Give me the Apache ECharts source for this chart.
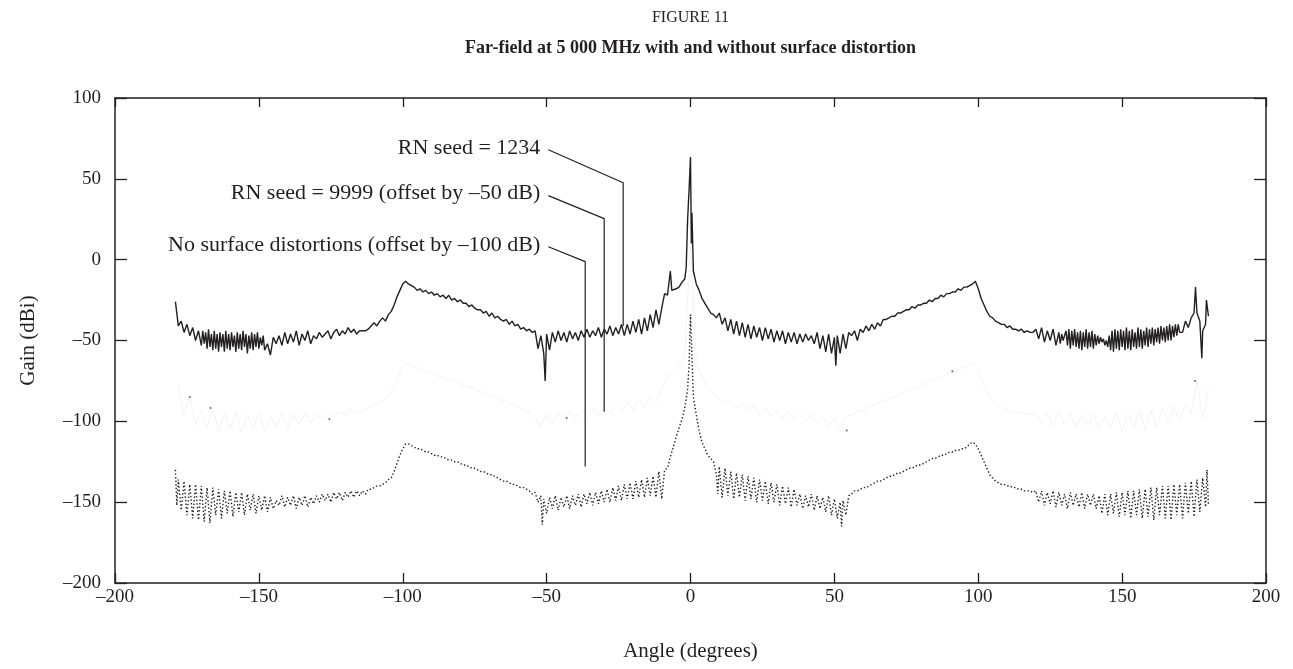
<!DOCTYPE html>
<html>
<head>
<meta charset="utf-8">
<script src="https://cdn.jsdelivr.net/npm/echarts@6/dist/echarts.min.js"></script>
<style>
html,body{margin:0;padding:0;background:#fff;}
#c{width:1293px;height:669px;}
</style>
</head>
<body>
<div id="c"></div>
<script>
// ---------- DATA ----------
const xTicks = [-200, 200, 50];
const yTicks = [-200, 100, 50];

// RN seed = 1234 (solid)
const seed1234 = [
[-179,-26],[-178,-41],[-177,-38],[-176,-45],[-175,-40],[-174,-47],[-173,-42],[-172,-50],[-171,-44],
[-170,-53],[-169.5,-44],[-169,-52],[-168.5,-45],[-168,-55],[-167.5,-43],[-167,-54],[-166.5,-46],[-166,-56],[-165.5,-44],
[-165,-55],[-164.5,-46],[-164,-57],[-163.5,-45],[-163,-54],[-162.5,-46],[-162,-57],[-161.5,-44],[-161,-55],[-160.5,-46],
[-160,-56],[-159.5,-45],[-159,-54],[-158.5,-47],[-158,-57],[-157.5,-45],[-157,-55],[-156.5,-46],[-156,-56],[-155.5,-44],
[-155,-54],[-154.5,-46],[-154,-58],[-153.5,-47],[-153,-55],[-152.5,-45],[-152,-56],[-151.5,-46],[-151,-54],[-150.5,-45],
[-150,-55],[-149.5,-48],[-149,-53],[-148.5,-47],[-148,-56],
[-147,-52],[-146,-59],[-145,-48],[-144,-52],[-143,-47],[-142,-53],[-141,-45],[-140,-52],
[-139,-46],[-138,-51],[-137,-44],[-136,-53],[-135,-46],[-134,-50],[-133,-44],[-132,-52],[-131,-47],[-130,-49],
[-129,-45],[-128,-48],[-127,-46],[-126,-44],[-125,-49],[-124,-45],[-123,-43],[-122,-47],[-121,-44],[-120,-46],
[-119,-42],[-118,-45],[-117,-43],[-116,-46],[-115,-44],[-114,-44],[-113,-44],[-112,-43],[-111,-41],[-110,-39],
[-109,-41],[-108,-38],[-107,-36],[-106,-38],[-105,-34],[-104,-32],[-103,-28],[-102,-23],[-101,-19],[-100,-15],
[-99,-13.4],[-98,-15],[-97,-16],[-96,-17],[-95,-19],[-94,-18],[-93,-20],[-92,-19],[-91,-21],[-90,-20],
[-89,-22],[-88,-21],[-87,-23],[-86,-22],[-85,-24],[-84,-22],[-83,-25],[-82,-24],[-81,-26],[-80,-25],
[-79,-27],[-78,-27],[-77,-29],[-76,-28],[-75,-30],[-74,-31],[-73,-31],[-72,-33],[-71,-32],[-70,-35],
[-69,-33],[-68,-36],[-67,-35],[-66,-37],[-65,-38],[-64,-37],[-63,-40],[-62,-38],[-61,-41],[-60,-40],
[-59,-43],[-58,-42],[-57,-44],[-56,-43],[-55,-45],[-54,-44],[-53,-55],[-52,-47],[-51,-58],[-50.5,-75],
[-50,-46],[-49,-56],[-48,-45],[-47,-51],[-46,-44],[-45,-50],[-44,-45],[-43,-51],[-42,-44],[-41,-49],
[-40,-45],[-39,-50],[-38,-44],[-37,-48],[-36,-43],[-35,-48],[-34,-44],[-33,-47],[-32,-42],[-31,-48],
[-30,-43],[-29,-46],[-28,-41],[-27,-47],[-26,-42],[-25,-46],[-24,-40],[-23,-47],[-22,-40],[-21,-46],
[-20,-38],[-19,-45],[-18,-37],[-17,-46],[-16,-36],[-15,-44],[-14,-34],[-13,-42],[-12,-31],[-11,-40],
[-10,-30],[-9,-21],[-8,-22],[-7,-7],[-6.5,-19],[-6,-20],[-5,-18],[-4,-17],[-3,-14],[-2,-12],
[-1.5,-5],[-1,25],[-0.5,43],[0,63.5],[0.3,10],[0.5,29],[1,-7],[1.5,-11],[2,-15],[3,-19],
[4,-24],[5,-27],[6,-30],[7,-33],[8,-34],[9,-36],[10,-33],[11,-40],[12,-36],[13,-44],
[14,-37],[15,-46],[16,-38],[17,-47],[18,-39],[19,-48],[20,-40],[21,-49],[22,-41],[23,-48],
[24,-42],[25,-50],[26,-42],[27,-49],[28,-43],[29,-51],[30,-44],[31,-50],[32,-44],[33,-52],
[34,-45],[35,-51],[36,-45],[37,-52],[38,-46],[39,-51],[40,-46],[41,-50],[42,-47],[43,-52],
[44,-45],[45,-55],[46,-47],[47,-57],[48,-46],[49,-58],[50,-48],[50.5,-65.6],[51,-47],[52,-58],
[53,-46],[54,-55],[55,-45],[56,-47],[57,-44],[58,-50],[59,-43],[60,-45],[61,-41],[62,-44],
[63,-40],[64,-43],[65,-39],[66,-41],[67,-37],[68,-37],[69,-36],[70,-35],[71,-35],[72,-33],
[73,-33],[74,-32],[75,-31],[76,-31],[77,-29],[78,-30],[79,-28],[80,-28],[81,-27],[82,-27],
[83,-25],[84,-26],[85,-24],[86,-24],[87,-22],[88,-23],[89,-21],[90,-21],[91,-20],[92,-20],
[93,-18],[94,-19],[95,-17],[96,-17],[97,-16],[98,-15],[99,-13.4],[100,-18],[101,-24],[102,-28],
[103,-32],[104,-35],[105,-36],[106,-38],[107,-39],[108,-40],[109,-40],[110,-42],[111,-41],[112,-43],
[113,-43],[114,-44],[115,-43],[116,-45],[117,-44],[118,-45],[119,-45],[120,-43],[121,-49],[122,-42],
[123,-51],[124,-44],[125,-50],[126,-43],[127,-53],
[128,-45],[128.5,-52],[129,-46],[129.5,-50],[130,-49],[130.5,-44],[131,-53],[131.5,-43],[132,-55],[132.5,-44],
[133,-53],[133.5,-43],[134,-54],[134.5,-45],[135,-55],[135.5,-44],[136,-56],[136.5,-45],[137,-54],[137.5,-43],
[138,-55],[138.5,-45],[139,-54],[139.5,-44],[140,-55],[140.5,-46],[141,-53],[141.5,-47],[142,-52],[142.5,-48],
[143,-51],[143.5,-49],[144,-53],[144.5,-50],[145,-54],[145.5,-47],[146,-56],[146.5,-44],[147,-57],[147.5,-43],
[148,-55],[148.5,-44],[149,-56],[149.5,-43],[150,-54],[150.5,-44],[151,-56],[151.5,-42],[152,-55],[152.5,-44],
[153,-56],[153.5,-43],[154,-54],[154.5,-45],[155,-55],[155.5,-42],[156,-54],[156.5,-43],[157,-55],[157.5,-44],
[158,-53],[158.5,-42],[159,-54],[159.5,-43],[160,-52],[160.5,-42],[161,-53],[161.5,-43],[162,-51],[162.5,-42],
[163,-52],[163.5,-41],[164,-50],[164.5,-42],[165,-51],[165.5,-41],[166,-50],[166.5,-40],[167,-50],[167.5,-41],
[168,-48],[168.5,-40],[169,-47],[169.5,-40],[170,-45],
[171,-45],[172,-38],[173,-42],[174,-36],[175,-33],[175.5,-17],[176,-33],[177,-38],[177.7,-61],[178,-44],
[179,-40],[179.3,-25],[180,-35]
];

// RN seed = 9999 (offset by -50 dB) – printed almost invisibly
const seed9999 = [
[-178,-78],[-176,-97],[-174,-85],[-172,-102],[-170,-93],[-168,-104],[-166,-92],[-164,-106],[-162,-95],[-160,-105],
[-158,-94],[-156,-107],[-154,-96],[-152,-104],[-150,-95],[-148,-106],[-146,-97],[-144,-103],[-142,-95],[-140,-104],
[-138,-96],[-136,-102],[-134,-95],[-132,-101],[-130,-96],[-128,-99],[-126,-95],[-124,-97],[-122,-94],[-120,-96],
[-118,-93],[-116,-95],[-114,-93],[-112,-92],[-110,-90],[-108,-88],[-106,-86],[-104,-82],[-102,-74],[-100,-66],
[-98,-64],[-96,-66],[-94,-68],[-92,-69],[-90,-70],[-88,-72],[-86,-73],[-84,-74],[-82,-75],[-80,-77],
[-78,-78],[-76,-79],[-74,-81],[-72,-82],[-70,-84],[-68,-85],[-66,-87],[-64,-88],[-62,-90],[-60,-91],
[-58,-93],[-56,-94],[-54,-97],[-52,-103],[-50,-96],[-48,-101],[-46,-95],[-44,-99],[-42,-94],[-40,-98],
[-38,-93],[-36,-97],[-34,-92],[-32,-96],[-30,-91],[-28,-95],[-26,-90],[-24,-94],[-22,-88],[-20,-93],
[-18,-87],[-16,-91],[-14,-84],[-12,-88],[-10,-80],[-8,-72],[-6,-70],[-4,-66],[-2,-60],[0,12],
[2,-64],[4,-72],[6,-79],[8,-83],[10,-86],[12,-89],[14,-87],[16,-92],[18,-89],[20,-94],
[22,-90],[24,-96],[26,-92],[28,-97],[30,-93],[32,-98],[34,-94],[36,-99],[38,-95],[40,-100],
[42,-96],[44,-101],[46,-97],[48,-104],[50,-98],[52,-106],[54,-97],[56,-96],[58,-94],[60,-93],
[62,-91],[64,-90],[66,-88],[68,-87],[70,-85],[72,-84],[74,-82],[76,-81],[78,-79],[80,-78],
[82,-76],[84,-75],[86,-73],[88,-72],[90,-70],[92,-69],[94,-67],[96,-66],[98,-64],[100,-68],
[102,-78],[104,-85],[106,-89],[108,-91],[110,-93],[112,-94],[114,-95],[116,-95],[118,-96],[120,-94],
[122,-101],[124,-95],[126,-103],[128,-94],[130,-102],[132,-95],[134,-104],[136,-96],[138,-103],[140,-95],
[142,-105],[144,-97],[146,-104],[148,-94],[150,-106],[152,-95],[154,-104],[156,-93],[158,-105],[160,-93],
[162,-103],[164,-92],[166,-102],[168,-91],[170,-100],[172,-89],[174,-95],[176,-75],[178,-98],[180,-80]
];
// the few visible dots of the faint curve
const seed9999Dots = [[-174,-85],[-166.8,-91.7],[-125.5,-98.5],[-43,-98],[54.3,-105.6],[91,-69],[175.3,-75]];

// No surface distortions (offset by -100 dB), dotted
const noDistortion = [
[-179,-130],[-178.5,-152],[-178,-136],[-177,-155],[-176,-137],[-175,-158],[-174,-139],[-173,-160],[-172,-139],[-171,-161],
[-170,-140],[-169,-162],[-168,-141],[-167,-163],[-166,-141],[-165,-158],[-164,-142],[-163,-160],[-162,-143],[-161,-157],
[-160,-143],[-159,-159],[-158,-144],[-157,-156],[-156,-144],[-155,-158],[-154,-145],[-153,-155],[-152,-145],[-151,-157],
[-150,-146],[-149,-155],[-148,-146],[-147,-156],[-146,-147],[-145,-154],[-144,-149],[-143,-152],[-142,-146],[-141,-153],
[-140,-147],[-139,-152],[-138,-146],[-137,-154],[-136,-147],[-135,-152],[-134,-146],[-133,-153],[-132,-147],[-131,-151],
[-130,-146],[-129,-150],[-128,-145],[-127,-149],[-126,-145],[-125,-150],[-124,-144],[-123,-148],[-122,-144],[-121,-149],
[-120,-144],[-119,-147],[-118,-143],[-117,-147],[-116,-143],[-115,-146],[-114,-143],[-113,-145],[-112,-142],[-111,-142],
[-110,-141],[-109,-140],[-108,-140],[-107,-139],[-106,-138],[-105,-136],[-104,-135],[-103,-131],[-102,-126],[-101,-121],
[-100,-117],[-99,-114],[-98.4,-113],[-98,-114],[-97,-115],[-96,-116],[-95,-117],[-94,-117],[-93,-118],[-92,-119],
[-91,-119],[-90,-120],[-89,-121],[-88,-121],[-87,-122],[-86,-122],[-85,-123],[-84,-124],[-83,-124],[-82,-125],
[-81,-125],[-80,-126],[-79,-127],[-78,-127],[-77,-128],[-76,-129],[-75,-129],[-74,-130],[-73,-131],[-72,-131],
[-71,-132],[-70,-133],[-69,-133],[-68,-134],[-67,-135],[-66,-136],[-65,-137],[-64,-137],[-63,-138],[-62,-139],
[-61,-139],[-60,-140],[-59,-141],[-58,-141],[-57,-142],[-56,-143],[-55,-145],[-54,-144],[-53,-150],[-52,-146],
[-51.5,-164],[-51,-148],[-50,-157],[-49,-147],[-48,-154],[-47,-146],[-46,-155],[-45,-147],[-44,-153],[-43,-146],
[-42,-154],[-41,-146],[-40,-152],[-39,-145],[-38,-153],[-37,-145],[-36,-151],[-35,-144],[-34,-152],[-33,-144],
[-32,-151],[-31,-143],[-30,-150],[-29,-142],[-28,-150],[-27,-141],[-26,-149],[-25,-140],[-24,-149],[-23,-139],
[-22,-148],[-21,-138],[-20,-148],[-19,-137],[-18,-147],[-17,-136],[-16,-147],[-15,-135],[-14,-146],[-13,-134],
[-12,-147],[-11,-131],[-10,-148],[-9,-130],[-8,-129],[-7,-122],[-6,-116],[-5,-110],[-4,-104],[-3,-99],
[-2,-92],[-1,-80],[-0.5,-65],[0,-34],[0.5,-60],[1,-85],[2,-96],[3,-106],[4,-113],[5,-117],
[6,-121],[7,-123],[8,-125],[9,-133],[9.5,-145],[10,-128],[11,-147],[12,-129],[13,-146],[14,-131],
[15,-148],[16,-132],[17,-147],[18,-133],[19,-149],[20,-134],[21,-148],[22,-135],[23,-150],[24,-136],
[25,-149],[26,-137],[27,-151],[28,-138],[29,-150],[30,-139],[31,-152],[32,-140],[33,-151],[34,-141],
[35,-153],[36,-142],[37,-152],[38,-145],[39,-154],[40,-146],[41,-153],[42,-145],[43,-155],[44,-146],
[45,-154],[46,-147],[47,-156],[48,-146],[49,-158],[50,-148],[51,-160],[52,-150],[52.5,-165],[53,-149],
[54,-158],[55,-146],[56,-145],[57,-143],[58,-143],[59,-142],[60,-141],[61,-141],[62,-140],[63,-139],
[64,-138],[65,-137],[66,-137],[67,-136],[68,-135],[69,-134],[70,-134],[71,-133],[72,-132],[73,-132],
[74,-131],[75,-130],[76,-129],[77,-129],[78,-128],[79,-127],[80,-127],[81,-126],[82,-125],[83,-124],
[84,-123],[85,-123],[86,-122],[87,-121],[88,-121],[89,-120],[90,-119],[91,-119],[92,-118],[93,-118],
[94,-117],[95,-117],[96,-116],[97,-114],[98,-113],[98.5,-112.4],[99,-114],[100,-117],[101,-121],[102,-125],
[103,-129],[104,-133],[105,-135],[106,-137],[107,-138],[108,-139],[109,-139],[110,-140],[111,-140],[112,-141],
[113,-141],[114,-142],[115,-142],[116,-143],[117,-143],[118,-143],[119,-144],[120,-143],[121,-150],[122,-143],
[123,-152],[124,-144],[125,-151],[126,-143],[127,-153],[128,-144],[129,-152],[130,-145],[131,-154],[132,-144],
[133,-152],[134,-145],[135,-153],[136,-144],[137,-154],[138,-145],[139,-152],[140,-145],[141,-154],[142,-146],
[143,-157],[144,-145],[145,-158],[146,-145],[147,-157],[148,-144],[149,-159],[150,-144],[151,-158],[152,-143],
[153,-160],[154,-143],[155,-158],[156,-142],[157,-160],[158,-142],[159,-159],[160,-141],[161,-161],[162,-141],
[163,-158],[164,-140],[165,-160],[166,-140],[167,-161],[168,-139],[169,-158],[170,-139],[171,-160],[172,-138],
[173,-157],[174,-137],[175,-159],[176,-136],[177,-156],[178,-135],[179,-153],[179.5,-130],[180,-152]
];

// annotations: text and leader line (start, bend, end) in data units
const annotTexts = ['RN seed = 1234', 'RN seed = 9999 (offset by \u201350 dB)', 'No surface distortions (offset by \u2013100 dB)'];
const annotLines = [
  [[-49.4,68.0],[-23.4,47.6],[-23.4,-41]],
  [[-49.4,39.6],[-30.0,25.4],[-30.0,-94]],
  [[-49.4,8.0],[-36.6,-1.2],[-36.6,-128]]
];

const titleText = 'FIGURE 11';
const subtitleText = 'Far-field at 5 000 MHz with and without surface distortion';
const xName = 'Angle (degrees)';
const yName = 'Gain (dBi)';

// ---------- CHART ----------
const FONT = '"Liberation Serif", "Times New Roman", serif';
const INK = '#231f20';
const chart = echarts.init(document.getElementById('c'), null, {renderer: 'canvas'});
const fmt = v => String(v).replace('-', '\u2013');

const axisCommon = {
  axisLine: {show: true, onZero: false, lineStyle: {color: INK, width: 1.5}},
  splitLine: {show: false}
};

const series = [
  {type: 'line', name: 'seed9999', data: seed9999, showSymbol: false, z: 1,
   lineStyle: {color: '#f3f3f3', width: 1}, silent: true},
  {type: 'scatter', name: 'seed9999dots', data: seed9999Dots, symbolSize: 2, z: 2,
   itemStyle: {color: '#444'}, silent: true},
  {type: 'line', name: 'noDistortion', data: noDistortion, showSymbol: false, z: 3,
   lineStyle: {color: INK, width: 1.4, type: [1.4, 2.2]}, silent: true},
  {type: 'line', name: 'seed1234', data: seed1234, showSymbol: false, z: 4,
   lineStyle: {color: INK, width: 1.4}, silent: true}
];
annotLines.forEach((l, i) => series.push({
  type: 'line', name: 'annot' + i, data: l, showSymbol: false, z: 5,
  lineStyle: {color: INK, width: 1.2}, silent: true
}));

chart.setOption({
  animation: false,
  backgroundColor: '#fff',
  grid: {left: 115, right: 27, top: 98, bottom: 86},
  xAxis: [
    Object.assign({type: 'value', position: 'bottom', min: xTicks[0], max: xTicks[1], interval: xTicks[2],
      name: xName, nameLocation: 'middle', nameGap: 58,
      nameTextStyle: {fontFamily: FONT, fontSize: 21, color: INK},
      axisTick: {show: true, inside: true, length: 10, lineStyle: {color: INK, width: 1.3}},
      axisLabel: {fontFamily: FONT, fontSize: 19, color: INK, margin: 5, formatter: fmt}}, axisCommon),
    Object.assign({type: 'value', position: 'top', min: xTicks[0], max: xTicks[1], interval: xTicks[2],
      axisTick: {show: true, inside: true, length: 9, lineStyle: {color: INK, width: 1.3}},
      axisLabel: {show: false}}, axisCommon)
  ],
  yAxis: [
    Object.assign({type: 'value', position: 'left', min: yTicks[0], max: yTicks[1], interval: yTicks[2],
      name: yName, nameLocation: 'middle', nameGap: 76, nameRotate: 90,
      nameTextStyle: {fontFamily: FONT, fontSize: 21, color: INK},
      axisTick: {show: true, inside: true, length: 12, lineStyle: {color: INK, width: 1.3}},
      axisLabel: {fontFamily: FONT, fontSize: 19, color: INK, margin: 14, formatter: fmt}}, axisCommon),
    Object.assign({type: 'value', position: 'right', min: yTicks[0], max: yTicks[1], interval: yTicks[2],
      axisTick: {show: true, inside: true, length: 12, lineStyle: {color: INK, width: 1.3}},
      axisLabel: {show: false}}, axisCommon)
  ],
  series: series
});

// annotation texts and titles (titles centred over the plot area)
const gridCenterX = chart.convertToPixel({xAxisIndex: 0}, 0);
const graphics = [
  {type: 'text', x: gridCenterX, y: 18, style: {text: titleText, font: '16px ' + FONT, fill: INK, textAlign: 'center', textVerticalAlign: 'middle'}},
  {type: 'text', x: gridCenterX, y: 48, style: {text: subtitleText, font: 'bold 18px ' + FONT, fill: INK, textAlign: 'center', textVerticalAlign: 'middle'}}
];
annotLines.forEach((l, i) => {
  const p = chart.convertToPixel({gridIndex: 0}, l[0]);
  graphics.push({type: 'text', x: p[0] - 8, y: p[1] - 2,
    style: {text: annotTexts[i], font: '22px ' + FONT, fill: INK, textAlign: 'right', textVerticalAlign: 'middle'}});
});
chart.setOption({graphic: graphics});
</script>
</body>
</html>
